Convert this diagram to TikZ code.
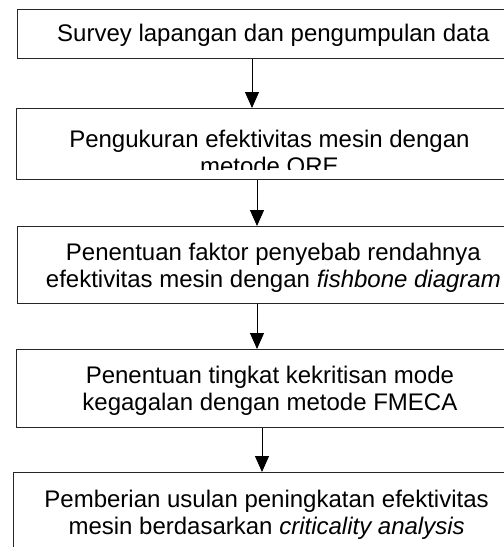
\documentclass[tikz,border=0pt]{standalone}
\usepackage{fontspec}
\setmainfont{Liberation Sans}
\usetikzlibrary{arrows.meta}
\newcommand{\boxtxt}[4]{\begin{minipage}[t][#2][t]{#1}\centering\fontsize{24}{27}\selectfont\rule{0pt}{#3}#4\end{minipage}}
\begin{document}
\begin{tikzpicture}[x=1pt,y=-1pt,
  boxline/.style={draw=black!85,line width=0.8pt},
  flowbox/.style={boxline,inner sep=0pt,anchor=north west},
  arr/.style={draw=black,line width=0.9pt,-{Triangle[length=16pt,width=14pt]}}]
\clip (0,0) rectangle (504,547);
\fill[white] (0,0) rectangle (504,547);
\node[flowbox] (b1) at (16.5,9) {\boxtxt{513pt}{49pt}{32pt}{Survey lapangan dan pengumpulan data}};
\begin{scope}
\clip (0,0) rectangle (504,169.5);
\node[flowbox,draw=none] (b2) at (16.5,108) {\boxtxt{505pt}{71pt}{39pt}{Pengukuran efektivitas mesin dengan\\metode ORE}};
\end{scope}
\draw[boxline] (b2.north west) rectangle (b2.south east);
\node[flowbox] (b3) at (16.5,226) {\boxtxt{513pt}{77pt}{34pt}{Penentuan faktor penyebab rendahnya\\efektivitas mesin dengan \textit{fishbone diagram}}};
\node[flowbox] (b4) at (16,349) {\boxtxt{507pt}{78pt}{34pt}{Penentuan tingkat kekritisan mode\\kegagalan dengan metode FMECA}};
\node[flowbox] (b5) at (12.7,472) {\boxtxt{507pt}{80pt}{35pt}{Pemberian usulan peningkatan efektivitas\\mesin berdasarkan \textit{criticality analysis}}};
\coordinate (ax1) at (252,0);
\coordinate (ax2) at (257,0);
\coordinate (ax3) at (257,0);
\coordinate (ax4) at (262,0);
\draw[arr] (b1.south -| ax1) -- (b2.north -| ax1);
\draw[arr] (b2.south -| ax2) -- (b3.north -| ax2);
\draw[arr] (b3.south -| ax3) -- (b4.north -| ax3);
\draw[arr] (b4.south -| ax4) -- (b5.north -| ax4);
\end{tikzpicture}
\end{document}
